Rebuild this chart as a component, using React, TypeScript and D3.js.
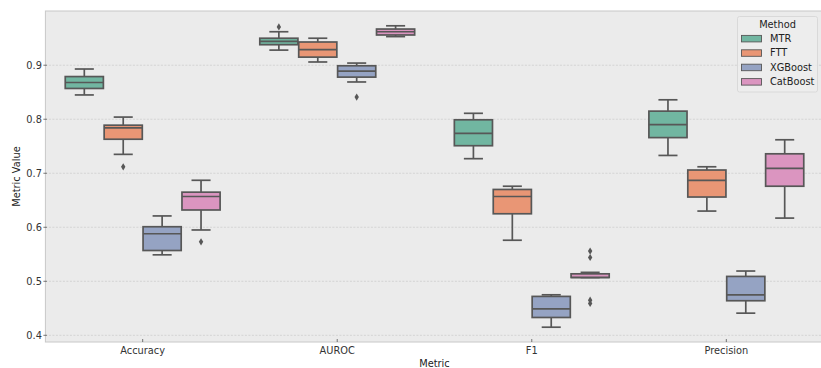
import React, { useEffect, useRef } from "react";
import * as d3 from "d3";

// categories / series
const metrics = ["Accuracy", "AUROC", "F1", "Precision"];
const methods = ["MTR", "FTT", "XGBoost", "CatBoost"];
const colors = ["#71b6a1", "#e99675", "#95a3c3", "#db95c0"];

// [lowWhisker, q1, median, q3, highWhisker] per metric
const mtrStats = [
  [0.845, 0.857, 0.868, 0.879, 0.893],
  [0.928, 0.938, 0.944, 0.95, 0.962],
  [0.727, 0.751, 0.774, 0.799, 0.811],
  [0.733, 0.766, 0.79, 0.815, 0.836],
];
const fttStats = [
  [0.735, 0.763, 0.784, 0.789, 0.804],
  [0.906, 0.915, 0.929, 0.943, 0.95],
  [0.576, 0.625, 0.657, 0.67, 0.676],
  [0.63, 0.656, 0.687, 0.706, 0.712],
];
const xgbStats = [
  [0.549, 0.557, 0.588, 0.601, 0.621],
  [0.869, 0.878, 0.889, 0.899, 0.904],
  [0.415, 0.433, 0.449, 0.472, 0.475],
  [0.441, 0.464, 0.475, 0.509, 0.519],
];
const catStats = [
  [0.595, 0.632, 0.657, 0.665, 0.687],
  [0.953, 0.956, 0.962, 0.967, 0.973],
  [0.507, 0.507, 0.507, 0.5138, 0.5165],
  [0.617, 0.676, 0.709, 0.736, 0.762],
];

// fliers per metric
const mtrOutliers = [[], [0.971], [], []];
const fttOutliers = [[0.712], [], [], []];
const xgbOutliers = [[], [0.841], [], []];
const catOutliers = [[0.573], [], [0.556, 0.544, 0.465, 0.459], []];

const yTicks = [0.4, 0.5, 0.6, 0.7, 0.8, 0.9];

const W = 821;
const H = 368;
const FONT = "DejaVu Sans, sans-serif";
const FS = "9.8px";

const App = () => {
  const svgRef = useRef<SVGSVGElement>(null);

  useEffect(() => {
    document.body.style.margin = "0";
    const svg = d3.select(svgRef.current);
    svg.selectAll("*").remove();

    const left = 45.4;
    const right = 823.6;
    const top = 11;
    const bottom = 342;

    const x = d3.scaleBand().domain(metrics).range([left, right]);
    const hue = d3
      .scaleBand()
      .domain(methods)
      .range([0, x.bandwidth() * 0.8]);
    const y = d3.scaleLinear().domain([0.3876, 1.0004]).range([bottom, top]);

    const allStats = [mtrStats, fttStats, xgbStats, catStats];
    const allOutliers = [mtrOutliers, fttOutliers, xgbOutliers, catOutliers];

    // background
    svg
      .append("rect")
      .attr("x", left)
      .attr("y", top)
      .attr("width", right - left)
      .attr("height", bottom - top)
      .attr("fill", "#ebebeb")
      .attr("stroke", "#c8c8c8")
      .attr("stroke-width", 1);

    // grid
    svg
      .append("g")
      .selectAll("line")
      .data(yTicks)
      .join("line")
      .attr("x1", left)
      .attr("x2", right)
      .attr("y1", (d) => y(d))
      .attr("y2", (d) => y(d))
      .attr("stroke", "#c4c4c4")
      .attr("stroke-width", 0.6)
      .attr("stroke-dasharray", "2,1.5");

    // y axis ticks + labels
    const yg = svg.append("g");
    yTicks.forEach((t) => {
      yg.append("line")
        .attr("x1", left - 2)
        .attr("x2", left + 1.5)
        .attr("y1", y(t))
        .attr("y2", y(t))
        .attr("stroke", "#555")
        .attr("stroke-width", 0.8);
      yg.append("text")
        .attr("x", left - 3.5)
        .attr("y", y(t))
        .attr("dy", "0.35em")
        .attr("text-anchor", "end")
        .style("font", `${FS} ${FONT}`)
        .attr("fill", "#333")
        .text(t.toFixed(1));
    });

    // x ticks + labels
    const xg = svg.append("g");
    metrics.forEach((m) => {
      const cx = x(m)! + x.bandwidth() / 2;
      xg.append("line")
        .attr("x1", cx)
        .attr("x2", cx)
        .attr("y1", bottom)
        .attr("y2", bottom - 3)
        .attr("stroke", "#555")
        .attr("stroke-width", 0.8);
      xg.append("text")
        .attr("x", cx)
        .attr("y", bottom + 12)
        .attr("text-anchor", "middle")
        .style("font", `${FS} ${FONT}`)
        .attr("fill", "#333")
        .text(m);
    });

    // axis titles
    svg
      .append("text")
      .attr("x", (left + right) / 2)
      .attr("y", 367)
      .attr("text-anchor", "middle")
      .style("font", `${FS} ${FONT}`)
      .attr("fill", "#222")
      .text("Metric");
    svg
      .append("text")
      .attr("transform", `translate(19.5,${(top + bottom) / 2}) rotate(-90)`)
      .attr("text-anchor", "middle")
      .style("font", `${FS} ${FONT}`)
      .attr("fill", "#222")
      .text("Metric Value");

    // boxes
    const edge = "#575757";
    const lw = 1.7;
    const g = svg.append("g");
    methods.forEach((meth, mi) => {
      metrics.forEach((met, ci) => {
        const [lo, q1, med, q3, hi] = allStats[mi][ci];
        const bw = hue.bandwidth() * 0.98;
        const cx =
          x(met)! + x.bandwidth() * 0.1 + hue(meth)! + hue.bandwidth() / 2;
        const cap = bw / 2;
        // whiskers
        g.append("line")
          .attr("x1", cx).attr("x2", cx)
          .attr("y1", y(q3)).attr("y2", y(hi))
          .attr("stroke", edge).attr("stroke-width", lw);
        g.append("line")
          .attr("x1", cx).attr("x2", cx)
          .attr("y1", y(q1)).attr("y2", y(lo))
          .attr("stroke", edge).attr("stroke-width", lw);
        [lo, hi].forEach((v) => {
          g.append("line")
            .attr("x1", cx - cap / 2).attr("x2", cx + cap / 2)
            .attr("y1", y(v)).attr("y2", y(v))
            .attr("stroke", edge).attr("stroke-width", lw);
        });
        // box
        g.append("rect")
          .attr("x", cx - bw / 2)
          .attr("y", y(q3))
          .attr("width", bw)
          .attr("height", Math.max(0.5, y(q1) - y(q3)))
          .attr("fill", colors[mi])
          .attr("stroke", edge)
          .attr("stroke-width", lw);
        // median
        g.append("line")
          .attr("x1", cx - bw / 2).attr("x2", cx + bw / 2)
          .attr("y1", y(med)).attr("y2", y(med))
          .attr("stroke", edge).attr("stroke-width", lw);
        // fliers (diamond)
        allOutliers[mi][ci].forEach((v) => {
          const py = y(v);
          g.append("path")
            .attr(
              "d",
              `M${cx},${py - 3.6}L${cx + 2.2},${py}L${cx},${py + 3.6}L${cx - 2.2},${py}Z`
            )
            .attr("fill", edge);
        });
      });
    });

    // legend
    const lg = svg.append("g");
    lg.append("rect")
      .attr("x", 737.5)
      .attr("y", 16.5)
      .attr("width", 80)
      .attr("height", 75.5)
      .attr("rx", 2)
      .attr("fill", "#eeeeee")
      .attr("fill-opacity", 0.8)
      .attr("stroke", "#d4d4d4")
      .attr("stroke-width", 0.8);
    lg.append("text")
      .attr("x", 777.5)
      .attr("y", 28)
      .attr("text-anchor", "middle")
      .style("font", `${FS} ${FONT}`)
      .attr("fill", "#222")
      .text("Method");
    methods.forEach((m, i) => {
      const ry = 38.6 + i * 14.4;
      lg.append("rect")
        .attr("x", 741.5)
        .attr("y", ry - 3.2)
        .attr("width", 20)
        .attr("height", 6.5)
        .attr("fill", colors[i])
        .attr("stroke", edge)
        .attr("stroke-width", 0.9);
      lg.append("text")
        .attr("x", 770)
        .attr("y", ry)
        .attr("dy", "0.35em")
        .style("font", `${FS} ${FONT}`)
        .attr("fill", "#222")
        .text(m);
    });
  }, []);

  return (
    <svg
      ref={svgRef}
      width={W}
      height={H}
      style={{ position: "absolute", left: 0, top: 0, background: "#fff" }}
    />
  );
};

export default App;
